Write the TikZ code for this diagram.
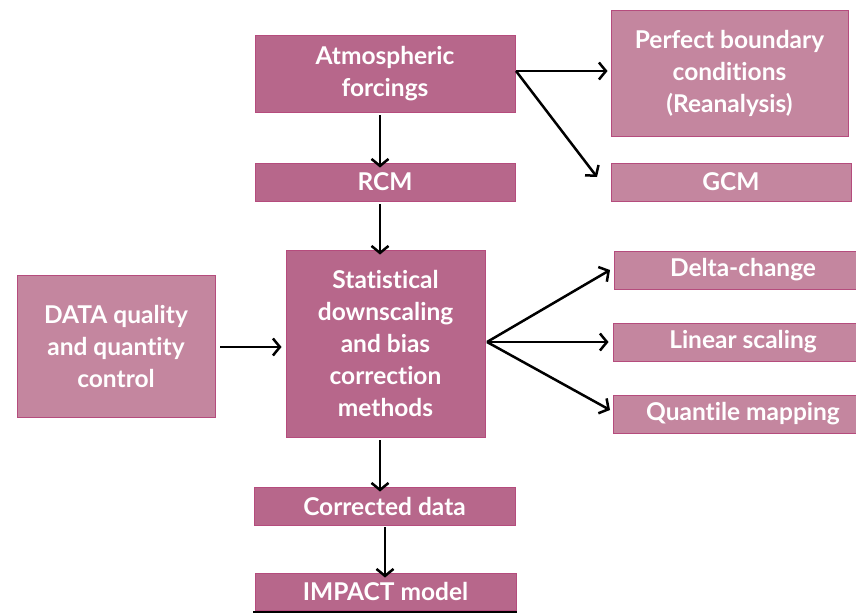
\documentclass[tikz,border=0pt]{standalone}
\usepackage{fontspec}
\setmainfont{Lato}[Ligatures=NoCommon]
\usetikzlibrary{arrows.meta}
\definecolor{mainbox}{HTML}{B7678B}
\definecolor{sidebox}{HTML}{C4869F}
\definecolor{boxline}{HTML}{B54C7D}
\tikzset{
  x=1pt,y=-1pt,
  box/.style={draw=boxline, line width=0.9pt, text=white, font=\fontsize{24.5}{32}\selectfont\bfseries, align=center, inner sep=0pt},
  mainb/.style={box, fill=mainbox},
  sideb/.style={box, fill=sidebox},
  arr/.style={draw=black, line width=2.5pt, -{Straight Barb[length=7pt,width=17pt,line width=2.5pt]}}
}
\begin{document}
\begin{tikzpicture}
\useasboundingbox (0,0) rectangle (856,613);
% main column
\node[mainb, minimum width=260, minimum height=77] (atm) at (385,73.5) {Atmospheric\\forcings};
\node[mainb, minimum width=260, minimum height=38] (rcm) at (385,182) {RCM};
\node[mainb, minimum width=199, minimum height=187] (stat) at (385.5,343.5) {Statistical\\downscaling\\and bias\\correction\\methods};
\node[mainb, minimum width=261, minimum height=38] (corr) at (384.5,506) {Corrected data};
\node[mainb, minimum width=261, minimum height=37] (imp) at (385.5,591.5) {IMPACT model};
% left
\node[sideb, minimum width=198, minimum height=142] (data) at (116,346) {DATA quality\\and quantity\\control};
% right
\node[sideb, minimum width=237, minimum height=126] (pbc) at (729.5,73.5) {Perfect boundary\\conditions\\(Reanalysis)};
\node[sideb, minimum width=240, minimum height=38] (gcm) at (731,182) {GCM};
\node[sideb, minimum width=258, minimum height=38] (delta) at (743,270) {Delta-change};
\node[sideb, minimum width=260, minimum height=38] (lin) at (743,342) {Linear scaling};
\node[sideb, minimum width=260, minimum height=38] (qm) at (743,414) {Quantile mapping};
% bottom black line
\draw[line width=2.5pt] (253,612) -- (517,612);
% connectors
\coordinate (atmR) at (516,71);
\coordinate (statR) at (487,342);
\draw[arr] (atm.south -| 380,0) ++(0,3) -- ([yshift=-5]rcm.north -| 380,0);
\draw[arr] (rcm.south -| 380,0) ++(0,3) -- ([yshift=-5]stat.north -| 380,0);
\draw[arr] (stat.south -| 380,0) ++(0,3) -- ([yshift=-5]corr.north -| 380,0);
\draw[arr] (corr.south -| 385,0) ++(0,2) -- ([yshift=-5]imp.north -| 385,0);
\draw[arr] ([xshift=5]data.east |- 0,347) -- ([xshift=-4]stat.west |- 0,347);
\draw[arr] (atmR) -- ([xshift=-3]pbc.west |- atmR);
\draw[arr] (atmR) -- (597,177);
\draw[arr] (statR) -- (610,270);
\draw[arr] (statR) -- ([xshift=-4]lin.west |- statR);
\draw[arr] (statR) -- (610,410);
\end{tikzpicture}
\end{document}
